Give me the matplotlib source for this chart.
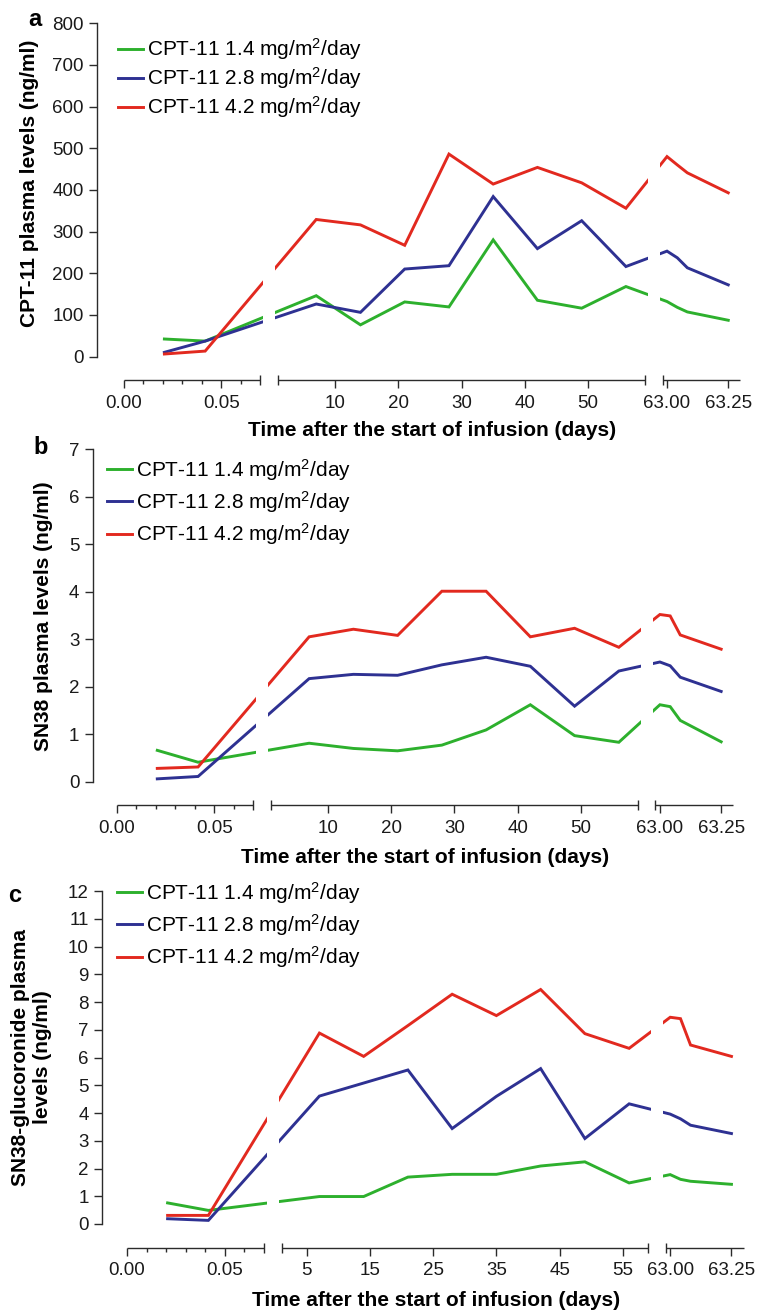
import numpy as np
import matplotlib
matplotlib.use('Agg')
import matplotlib.pyplot as plt
import matplotlib.transforms as mtransforms

plt.rcParams['font.family'] = ['Liberation Sans', 'DejaVu Sans']
plt.rcParams['mathtext.fontset'] = 'custom'
plt.rcParams['mathtext.rm'] = 'Liberation Sans'
plt.rcParams['mathtext.it'] = 'Liberation Sans:italic'
plt.rcParams['mathtext.bf'] = 'Liberation Sans:bold'
plt.rcParams['mathtext.default'] = 'regular'

# ---------------- data ----------------
times = [0.0208, 0.0417, 7, 14, 21, 28, 35, 42, 49, 56, 63.0, 63.042, 63.083, 63.25]
series_labels = ['CPT-11 1.4 mg/m$^{2}$/day', 'CPT-11 2.8 mg/m$^{2}$/day', 'CPT-11 4.2 mg/m$^{2}$/day']
series_colors = ['#2db02d', '#2e3192', '#e2291f']

cpt11_low = [42, 37, 146, 76, 131, 119, 280, 135, 116, 168, 132, 118, 107, 87]
cpt11_mid = [10, 37, 126, 106, 210, 218, 384, 259, 326, 216, 253, 237, 213, 172]
cpt11_high = [6, 13, 329, 316, 267, 486, 414, 454, 417, 356, 480, 460, 441, 393]

sn38_low = [0.66, 0.41, 0.81, 0.70, 0.65, 0.77, 1.09, 1.62, 0.97, 0.83, 1.62, 1.58, 1.29, 0.84]
sn38_mid = [0.06, 0.11, 2.17, 2.26, 2.24, 2.46, 2.62, 2.43, 1.59, 2.33, 2.52, 2.44, 2.20, 1.90]
sn38_high = [0.28, 0.31, 3.05, 3.21, 3.08, 4.01, 4.01, 3.05, 3.23, 2.83, 3.52, 3.49, 3.09, 2.79]

sn38g_low = [0.76, 0.49, 0.99, 0.99, 1.69, 1.79, 1.79, 2.09, 2.24, 1.48, 1.78, 1.61, 1.54, 1.43]
sn38g_mid = [0.19, 0.13, 4.61, 5.08, 5.55, 3.44, 4.60, 5.60, 3.08, 4.33, 3.96, 3.79, 3.56, 3.26]
sn38g_high = [0.31, 0.31, 6.88, 6.04, 7.15, 8.28, 7.51, 8.45, 6.86, 6.33, 7.45, 7.40, 6.45, 6.04]

seg1_major = [0.0, 0.05]
seg1_major_labels = ['0.00', '0.05']
seg1_minor = [0.01, 0.02, 0.03, 0.04, 0.06]
seg2_ticks_ab = [10, 20, 30, 40, 50]
seg2_ticks_c = [5, 15, 25, 35, 45, 55]
seg3_ticks = [63.0, 63.25]
seg3_labels = ['63.00', '63.25']

# broken axis: segments (days)
segments = [(0.0, 0.07), (1.0, 59.05), (62.982, 63.30)]

# ---------------- broken-axis scale ----------------
XB = np.array([0.0, 0.07, 1.0, 59.05, 62.982, 63.30])
PB = np.array([0.0, 136.6, 154.5, 521.4, 538.8, 616.7])
S_LO = (PB[1] - PB[0]) / (XB[1] - XB[0])
S_HI = (PB[5] - PB[4]) / (XB[5] - XB[4])


def fwd(x):
    x = np.asarray(x, dtype=float)
    p = np.interp(x, XB, PB)
    p = np.where(x < XB[0], PB[0] + (x - XB[0]) * S_LO, p)
    p = np.where(x > XB[-1], PB[-1] + (x - XB[-1]) * S_HI, p)
    return p


def inv(p):
    p = np.asarray(p, dtype=float)
    x = np.interp(p, PB, XB)
    x = np.where(p < PB[0], XB[0] + (p - PB[0]) / S_LO, x)
    x = np.where(p > PB[-1], XB[-1] + (p - PB[-1]) / S_HI, x)
    return x


W, H = 760, 1312
fig = plt.figure(figsize=(W / 100, H / 100), dpi=100)
PX = mtransforms.Affine2D().scale(1 / W, -1 / H).translate(0, 1) + fig.transFigure

panels = [
    dict(letter='a', box=(96.7, 23.3, 740.5, 356.5), zero_px=123.8, ymax=800, ystep=100,
         series=(cpt11_low, cpt11_mid, cpt11_high), seg2=seg2_ticks_ab,
         ylabel='CPT-11 plasma levels (ng/ml)', ylab_xy=(30, 183), letter_xy=(35, 19),
         xlab_xy=(432, 431), leg_xy=(118, 78.3), legspace=0.14),
    dict(letter='b', box=(92.6, 449.2, 733.4, 781.7), zero_px=116.7, ymax=7, ystep=1,
         series=(sn38_low, sn38_mid, sn38_high), seg2=seg2_ticks_ab,
         ylabel='SN38 plasma levels (ng/ml)', ylab_xy=(44, 616), letter_xy=(40.5, 448),
         xlab_xy=(425, 857.7), leg_xy=(107.3, 502), legspace=0.31),
    dict(letter='c', box=(102.0, 891.0, 743.7, 1224.0), zero_px=127.0, ymax=12, ystep=1,
         series=(sn38g_low, sn38g_mid, sn38g_high), seg2=seg2_ticks_c,
         ylabel='SN38-glucoronide plasma\nlevels (ng/ml)', ylab_xy=(32, 1057), letter_xy=(15, 895),
         xlab_xy=(435.7, 1301), leg_xy=(116.7, 925), legspace=0.31),
]

AX_COLOR = '#2b2b2b'

for P in panels:
    x0, y0, x1, y1 = P['box']
    ax = fig.add_axes([x0 / W, 1 - y1 / H, (x1 - x0) / W, (y1 - y0) / H])
    ax.set_xscale('function', functions=(fwd, inv))

    for vals, lab, col in zip(P['series'], series_labels, series_colors):
        ax.plot(times, vals, color=col, lw=2.1, label=lab, clip_on=False, zorder=2,
                solid_joinstyle='miter')

    # white breaks across the lines
    for gs, ge in [(136.6, 154.5), (521.4, 538.8)]:
        c = 0.5 * (gs + ge)
        ax.axvspan(float(inv(c - 6.0)), float(inv(c + 6.0)), ymin=-0.03, ymax=1.03,
                   color='white', lw=0, zorder=3, clip_on=False)

    ax.set_xlim(float(inv(-(P['zero_px'] - x0))), XB[-1])
    ax.set_ylim(0, P['ymax'])

    for s in ['top', 'right']:
        ax.spines[s].set_visible(False)
    ax.spines['left'].set_bounds(0, P['ymax'])
    ax.spines['left'].set_color(AX_COLOR)
    ax.spines['left'].set_linewidth(1.0)
    ax.spines['bottom'].set_position(('outward', 17))
    ax.spines['bottom'].set_visible(False)

    yt = np.arange(0, P['ymax'] + P['ystep'] / 2, P['ystep'])
    ax.set_yticks(yt, [f'{v:g}' for v in yt])
    xt = seg1_major + P['seg2'] + seg3_ticks
    xl = seg1_major_labels + [str(v) for v in P['seg2']] + seg3_labels
    ax.set_xticks(xt, xl)
    ax.set_xticks(seg1_minor, minor=True)
    ax.tick_params(axis='both', which='major', length=5.5, width=1.0, color=AX_COLOR,
                   labelsize=13.5, labelcolor='#1a1a1a')
    ax.tick_params(axis='x', which='major', pad=5)
    ax.tick_params(axis='y', which='major', pad=4)
    ax.tick_params(axis='x', which='minor', length=3, width=1.0, color=AX_COLOR)

    xtf = ax.get_xaxis_transform(which='tick1')
    for a, b in segments:
        ax.plot([a, b], [0, 0], transform=xtf, color=AX_COLOR, lw=1.0, clip_on=False,
                solid_capstyle='butt')
    caps = [segments[0][1], segments[1][0], segments[1][1], segments[2][0]]
    ax.plot(caps, [0] * len(caps), transform=xtf, ls='none', marker='|', ms=6.5, mew=1.0,
            color=AX_COLOR, clip_on=False)

    ax.set_xlabel('Time after the start of infusion (days)', fontsize=15, fontweight='bold')
    ax.xaxis.set_label_coords(*P['xlab_xy'], transform=PX)
    ax.xaxis.label.set_va('center')
    ax.set_ylabel(P['ylabel'], fontsize=15, fontweight='bold', linespacing=1.2)
    ax.yaxis.set_label_coords(*P['ylab_xy'], transform=PX)
    ax.yaxis.label.set_va('center')
    ax.yaxis.label.set_ha('center')

    fig.text(*P['letter_xy'], P['letter'], transform=PX, fontsize=17, fontweight='bold',
             ha='center', va='center')

    ax.legend(loc='center left', bbox_to_anchor=P['leg_xy'], bbox_transform=PX,
              frameon=False, fontsize=15, handlelength=1.2, handletextpad=0.2,
              borderpad=0, borderaxespad=0, labelspacing=P['legspace'])

fig.savefig('out.png', dpi=100)
